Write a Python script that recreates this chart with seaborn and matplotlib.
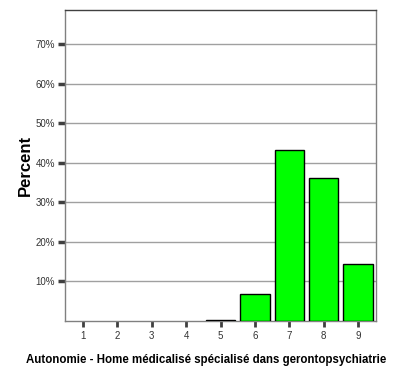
import matplotlib
matplotlib.use("Agg")
import matplotlib.pyplot as plt
import seaborn as sns

categories = ['1', '2', '3', '4', '5', '6', '7', '8', '9']
percents = [0.0, 0.0, 0.0, 0.0, 0.3, 6.7, 43.3, 36.1, 14.3]
y_ticks = [10, 20, 30, 40, 50, 60, 70]

sns.set_style('white')
plt.rcParams['font.family'] = ['Liberation Sans', 'DejaVu Sans']

fig = plt.figure(figsize=(4, 3.66), dpi=100)
ax = fig.add_axes([0.1625, 0.123, 0.7775, 0.85])

sns.barplot(x=categories, y=percents, color='#00ff00', edgecolor='black',
            linewidth=1.0, width=0.85, saturation=1, ax=ax, zorder=3)
for p in ax.patches:
    if p.get_height() == 0:
        p.set_edgecolor('none')

ax.set_xlim(-0.52, 8.52)
ax.set_ylim(0, 78.7)
ax.set_yticks(y_ticks)
ax.set_yticklabels([f'{t}%' for t in y_ticks])
ax.yaxis.grid(True, color='#a0a0a0', linewidth=1.0, zorder=0)
ax.set_axisbelow(True)

ax.tick_params(axis='y', length=5, width=2.5, color='#404040', labelsize=7,
               labelcolor='#333333', pad=2, left=True)
ax.tick_params(axis='x', length=4, width=2, color='#404040', labelsize=7,
               labelcolor='#333333', pad=3, bottom=True)

for side in ['left', 'right', 'bottom']:
    ax.spines[side].set_color('#808080')
    ax.spines[side].set_linewidth(1.0)
ax.spines['top'].set_color('#404040')
ax.spines['top'].set_linewidth(1.0)

ax.set_ylabel('Percent', fontsize=12, fontweight='bold', color='black')
ax.yaxis.set_label_coords(-0.103, 0.5)
ax.set_xlabel('Autonomie - Home médicalisé spécialisé dans gerontopsychiatrie',
              fontsize=8.3, fontweight='bold', color='black')
ax.xaxis.set_label_coords(0.453, -0.106)

fig.savefig('out.png', dpi=100)
